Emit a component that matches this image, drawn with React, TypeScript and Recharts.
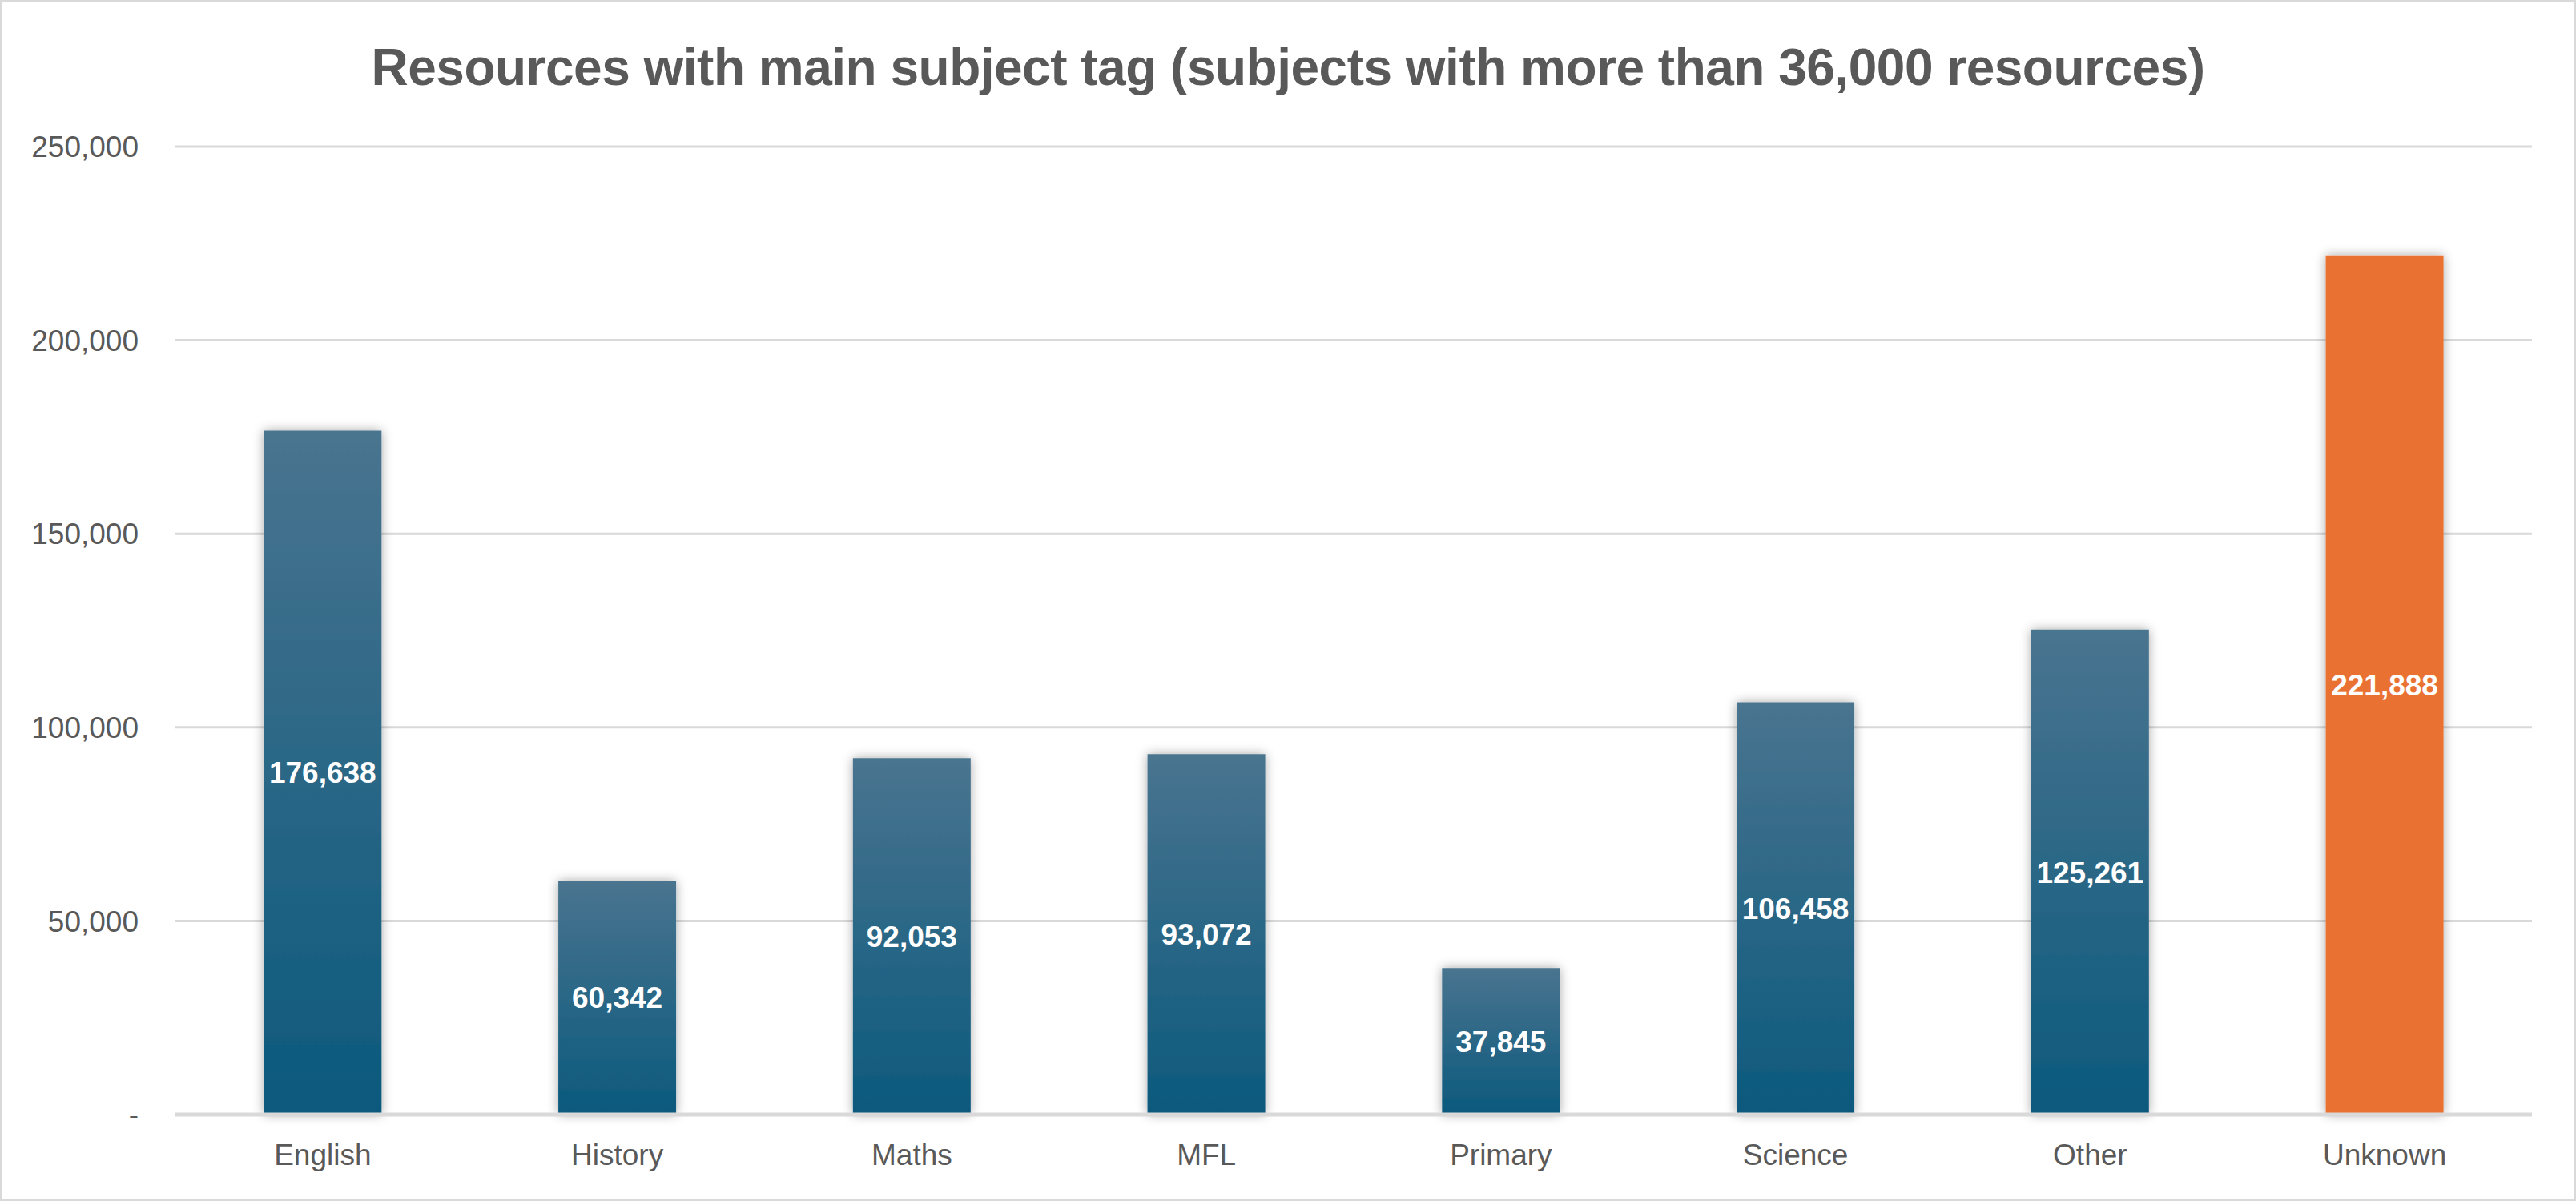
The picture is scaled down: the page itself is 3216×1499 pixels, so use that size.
import { BarChart, Bar, XAxis, YAxis, CartesianGrid, Cell, LabelList } from 'recharts';

const subjects = ['English', 'History', 'Maths', 'MFL', 'Primary', 'Science', 'Other', 'Unknown'];
const resources = [176638, 60342, 92053, 93072, 37845, 106458, 125261, 221888];
const yTicks = [0, 50000, 100000, 150000, 200000, 250000];

const data = subjects.map((subject, i) => ({ subject, total: resources[i] }));

const fmt = (v: number) => (v === 0 ? '-' : v.toLocaleString('en-GB'));

const App = () => {
  return (
    <div
      style={{
        position: 'absolute',
        top: 0,
        left: 0,
        width: 3216,
        height: 1499,
        boxSizing: 'border-box',
        border: '3px solid #d9d9d9',
        background: '#ffffff',
      }}
    >
      <div
        style={{
          position: 'absolute',
          top: 47,
          left: 0,
          width: '100%',
          textAlign: 'center',
          fontFamily: '"Liberation Sans", sans-serif',
          fontWeight: 'bold',
          fontSize: 64,
          letterSpacing: -0.5,
          lineHeight: '68px',
          color: '#595959',
        }}
      >
        Resources with main subject tag (subjects with more than 36,000 resources)
      </div>
      <BarChart
        width={3210}
        height={1493}
        data={data}
        margin={{ top: 180, right: 52, left: 0, bottom: 25 }}
        barCategoryGap="30%"
      >
        <defs>
          <linearGradient id="blueGrad" x1="0" y1="0" x2="0" y2="1">
            <stop offset="0%" stopColor="#49748f" />
            <stop offset="100%" stopColor="#0b597d" />
          </linearGradient>
          <filter id="barShadow" x="-30%" y="-10%" width="160%" height="120%">
            <feDropShadow dx="0" dy="0" stdDeviation="7" floodColor="#000000" floodOpacity="0.35" />
          </filter>
        </defs>
        <CartesianGrid vertical={false} stroke="#d9d9d9" strokeWidth={3} />
        <XAxis
          dataKey="subject"
          height={80}
          axisLine={{ stroke: '#d9d9d9', strokeWidth: 5 }}
          tickLine={false}
          tickSize={0}
          tickMargin={37}
          tick={{ fill: '#595959', fontSize: 37, fontFamily: '"Liberation Sans", sans-serif' }}
        />
        <YAxis
          width={216}
          domain={[0, 250000]}
          ticks={yTicks}
          tickFormatter={fmt}
          axisLine={false}
          tickLine={false}
          tickSize={0}
          tickMargin={46}
          tick={{ fill: '#595959', fontSize: 37, fontFamily: '"Liberation Sans", sans-serif' }}
        />
        <Bar dataKey="total" isAnimationActive={false} filter="url(#barShadow)">
          {data.map((entry, index) => (
            <Cell key={`bar-${index}`} fill={entry.subject === 'Unknown' ? '#e97132' : 'url(#blueGrad)'} />
          ))}
          <LabelList
            dataKey="total"
            position="center"
            formatter={(v: any) => Number(v).toLocaleString('en-GB')}
            fill="#ffffff"
            fontSize={37}
            fontWeight="bold"
            fontFamily='"Liberation Sans", sans-serif'
          />
        </Bar>
      </BarChart>
    </div>
  );
};

export default App;
